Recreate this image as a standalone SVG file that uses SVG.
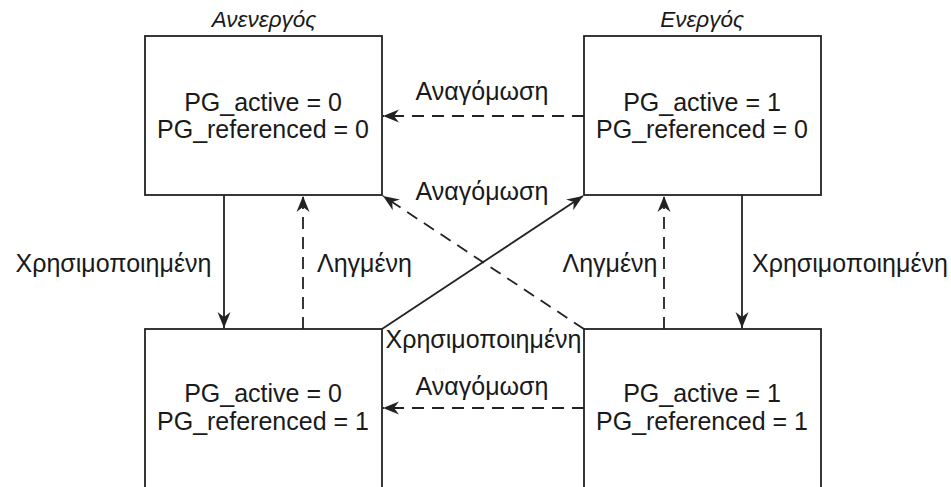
<svg xmlns="http://www.w3.org/2000/svg" width="951" height="487" viewBox="0 0 951 487">
<style>
.box{fill:#fff;stroke:#222;stroke-width:1.8}
.st{font-family:"Liberation Sans",Arial,sans-serif;font-size:25px;fill:#1a1a1a;text-anchor:middle}
.lb{font-family:"Liberation Sans",Arial,sans-serif;font-size:25px;fill:#1a1a1a;text-anchor:middle}
.tt{font-family:"Liberation Sans",Arial,sans-serif;font-size:22.5px;font-style:italic;fill:#1a1a1a;text-anchor:middle}
.ln{fill:none;stroke:#222;stroke-width:1.8}
.da{stroke-dasharray:12 8}
</style>
<defs>
<marker id="ah" markerUnits="userSpaceOnUse" markerWidth="20" markerHeight="20" viewBox="-18 -8 20 16" refX="0" refY="0" orient="auto">
<path d="M0,0 L-16,-6.5 L-11,0 L-16,6.5 Z" fill="#222"/>
</marker>
</defs>
<rect width="951" height="487" fill="#fff"/>
<g id="node-inactive0">
<rect class="box" x="145" y="36" width="237" height="159"/>
<text class="st" x="263" y="111">PG_active = 0</text>
<text class="st" x="263" y="138">PG_referenced = 0</text>
</g>
<g id="node-active0">
<rect class="box" x="584" y="36" width="237" height="159"/>
<text class="st" x="702" y="111">PG_active = 1</text>
<text class="st" x="702" y="138">PG_referenced = 0</text>
</g>
<g id="node-inactive1">
<rect class="box" x="145" y="329" width="237" height="180"/>
<text class="st" x="263" y="402">PG_active = 0</text>
<text class="st" x="263" y="430">PG_referenced = 1</text>
</g>
<g id="node-active1">
<rect class="box" x="584" y="329" width="237" height="180"/>
<text class="st" x="702" y="402">PG_active = 1</text>
<text class="st" x="702" y="430">PG_referenced = 1</text>
</g>
<g id="titles">
<text class="tt" x="264" y="27">Ανενεργός</text>
<text class="tt" x="702" y="27">Ενεργός</text>
</g>
<g id="connectors">
<line class="ln da" x1="584" y1="116" x2="383" y2="116" marker-end="url(#ah)"/>
<line class="ln da" x1="584" y1="408" x2="383" y2="408" marker-end="url(#ah)"/>
<line class="ln" x1="224" y1="195" x2="224" y2="328" marker-end="url(#ah)"/>
<line class="ln da" x1="303" y1="329" x2="303" y2="196" marker-end="url(#ah)"/>
<line class="ln" x1="742" y1="195" x2="742" y2="328" marker-end="url(#ah)"/>
<line class="ln da" x1="664" y1="329" x2="664" y2="196" marker-end="url(#ah)"/>
<line class="ln" x1="382" y1="329" x2="583" y2="196" marker-end="url(#ah)"/>
<line class="ln da" x1="584" y1="329" x2="383" y2="196" marker-end="url(#ah)"/>
<text class="lb" x="482" y="100">Αναγόμωση</text>
<text class="lb" x="482" y="200">Αναγόμωση</text>
<text class="lb" x="482" y="395">Αναγόμωση</text>
<text class="lb" x="113.5" y="272">Χρησιμοποιημένη</text>
<text class="lb" x="364.5" y="272">Ληγμένη</text>
<text class="lb" x="610" y="272">Ληγμένη</text>
<text class="lb" x="850" y="272">Χρησιμοποιημένη</text>
<text class="lb" x="483.5" y="348">Χρησιμοποιημένη</text>
</g>
</svg>
